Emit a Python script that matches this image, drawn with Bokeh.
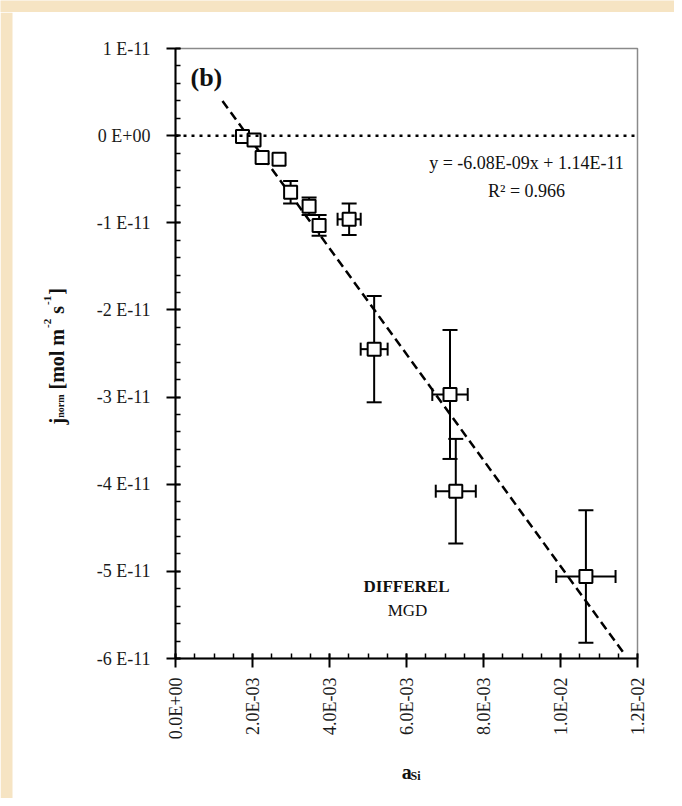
import math
from bokeh.plotting import figure
from bokeh.layouts import row, column
from bokeh.models import (ColumnDataSource, Whisker, TeeHead, Label, Range1d,
                          FixedTicker, CustomJSTickFormatter, Span)
from bokeh.embed import file_html
from bokeh.resources import INLINE

# ---------------- data ----------------
# a_Si (activity of Si)
a_si = [0.00174, 0.00204, 0.00225, 0.00269, 0.00299, 0.00347, 0.00373,
        0.00451, 0.00516, 0.00713, 0.00728, 0.01066]
# j_norm in units of 1E-11 mol m^-2 s^-1
j_norm = [-0.01, -0.05, -0.25, -0.27, -0.65, -0.81, -1.03,
          -0.96, -2.45, -2.97, -4.08, -5.06]
j_err = [0.0, 0.0, 0.0, 0.0, 0.13, 0.10, 0.12, 0.18, 0.61, 0.74, 0.60, 0.76]
a_err = [0.0, 0.0, 0.0, 0.0, 0.00012, 0.00012, 0.00012, 0.00030, 0.00035,
         0.00046, 0.00052, 0.00077]

fit_slope = -6.08e-09
fit_intercept = 1.14e-11
fit_r2 = 0.966
fit_x_span = [0.00122, 0.01165]
Y_UNIT = 1e-11

x_ticks = [0.0, 0.002, 0.004, 0.006, 0.008, 0.010, 0.012]
x_tick_labels = ["0.0E+00", "2.0E-03", "4.0E-03", "6.0E-03", "8.0E-03",
                 "1.0E-02", "1.2E-02"]
x_minor = [i * 0.0005 for i in range(25)]
y_ticks = [1, 0, -1, -2, -3, -4, -5, -6]
y_tick_labels = ["1 E-11", "0 E+00", "-1 E-11", "-2 E-11", "-3 E-11",
                 "-4 E-11", "-5 E-11", "-6 E-11"]
y_minor = [1 - 0.2 * i for i in range(36)]

# ---------------- layout (canvas pixels) ----------------
X_START, X_END = 0.0, 0.012
Y_START, Y_END = -6.0, 1.0
W, H = 674, 798
TOP_STRIP = 12          # beige strip above the white panel
LEFT_W = 90             # strip holding the y-axis title
XLAB_H = 40             # strip holding the x-axis title
FRAME_L, FRAME_R, FRAME_T, FRAME_B = 175, 637, 48, 658
MAIN_W = W - LEFT_W
MAIN_H = H - TOP_STRIP - XLAB_H
FONT = "Liberation Serif"
BEIGE = "#f6e4c3"


def dx(px):
    return X_START + (px - FRAME_L) / (FRAME_R - FRAME_L) * (X_END - X_START)


def dy(py):
    return Y_END - (py - FRAME_T) / (FRAME_B - FRAME_T) * (Y_END - Y_START)


def blank(width, height, bg="white"):
    f = figure(width=width, height=height, output_backend="svg",
               toolbar_location=None, x_range=Range1d(0, width),
               y_range=Range1d(0, height), min_border=0,
               x_axis_location=None, y_axis_location=None)
    f.grid.visible = False
    f.outline_line_color = None
    f.background_fill_color = bg
    f.border_fill_color = bg
    return f


main = figure(width=MAIN_W, height=MAIN_H, output_backend="svg",
              toolbar_location=None,
              x_range=Range1d(X_START, X_END), y_range=Range1d(Y_START, Y_END),
              min_border_left=FRAME_L - LEFT_W, min_border_right=W - FRAME_R,
              min_border_top=FRAME_T - TOP_STRIP,
              min_border_bottom=TOP_STRIP + MAIN_H - FRAME_B)
main.background_fill_color = "white"
main.border_fill_color = "white"
main.outline_line_color = "#8a8a8a"
main.outline_line_width = 1.5
main.xgrid.visible = False
main.ygrid.visible = False

fmt_js = """
const i = tv.findIndex(t => Math.abs(t - tick) < 1e-9);
return i >= 0 ? tl[i] : '';
"""
xa = main.xaxis[0]
xa.ticker = FixedTicker(ticks=x_ticks, minor_ticks=x_minor)
xa.formatter = CustomJSTickFormatter(args=dict(tv=x_ticks, tl=x_tick_labels), code=fmt_js)
xa.major_label_orientation = math.pi / 2
ya = main.yaxis[0]
ya.ticker = FixedTicker(ticks=y_ticks, minor_ticks=y_minor)
ya.formatter = CustomJSTickFormatter(args=dict(tv=y_ticks, tl=y_tick_labels), code=fmt_js)
for ax in (xa, ya):
    ax.axis_line_width = 2
    ax.axis_line_color = "black"
    ax.major_tick_line_width = 2
    ax.major_tick_line_color = "black"
    ax.minor_tick_line_width = 1.5
    ax.minor_tick_line_color = "black"
    ax.major_tick_out = 9
    ax.major_tick_in = 5
    ax.minor_tick_in = 5
    ax.minor_tick_out = 0
    ax.major_label_text_font = FONT
    ax.major_label_text_font_size = "18px"
    ax.major_label_text_color = "#1a1a1a"
xa.major_label_standoff = 10
ya.major_label_standoff = 16

# zero line (dotted)
main.add_layout(Span(location=0, dimension="width", line_color="black",
                     line_width=2.5, line_dash="3 5"))

# regression line
fit_y = [(fit_slope * x + fit_intercept) / Y_UNIT for x in fit_x_span]
main.line(fit_x_span, fit_y, line_color="black", line_width=2.5, line_dash="9 5")

# error bars
idx_y = [i for i in range(len(a_si)) if j_err[i] > 0]
src_y = ColumnDataSource(dict(
    x=[a_si[i] for i in idx_y],
    lo=[j_norm[i] - j_err[i] for i in idx_y],
    hi=[j_norm[i] + j_err[i] for i in idx_y]))
main.add_layout(Whisker(source=src_y, base="x", lower="lo", upper="hi",
                        dimension="height", line_color="black", line_width=2,
                        upper_head=TeeHead(size=15, line_width=2, line_color="black"),
                        lower_head=TeeHead(size=15, line_width=2, line_color="black")))
idx_x = [i for i in range(len(a_si)) if a_err[i] > 0]
src_x = ColumnDataSource(dict(
    y=[j_norm[i] for i in idx_x],
    lo=[a_si[i] - a_err[i] for i in idx_x],
    hi=[a_si[i] + a_err[i] for i in idx_x]))
main.add_layout(Whisker(source=src_x, base="y", lower="lo", upper="hi",
                        dimension="width", line_color="black", line_width=2,
                        upper_head=TeeHead(size=13, line_width=2, line_color="black"),
                        lower_head=TeeHead(size=13, line_width=2, line_color="black")))

# markers
main.scatter(a_si, j_norm, marker="square", size=13, fill_color="white",
             line_color="black", line_width=2)


# ---------------- texts ----------------
def lab(fig, text, x, y, size, bold=False, align="left", angle=0.0, color="#111111"):
    fig.add_layout(Label(x=x, y=y, text=text, text_font=FONT,
                         text_font_size=f"{size}px",
                         text_font_style="bold" if bold else "normal",
                         text_align=align, text_baseline="alphabetic",
                         angle=angle, text_color=color))


lab(main, f"y = {fit_slope:.2E}x + {fit_intercept:.2E}", dx(526), dy(162), 18, align="center")
lab(main, f"R² = {fit_r2:.3f}", dx(526), dy(190), 18, align="center")
lab(main, "(b)", dx(190), dy(77), 26, bold=True)
lab(main, "DIFFEREL", dx(406), dy(586), 17, bold=True, align="center")
lab(main, "MGD", dx(407), dy(610), 17, align="center")

# top beige strip
top = blank(W, TOP_STRIP, BEIGE)

# x-axis title strip: a_Si
xlab = blank(MAIN_W, XLAB_H)
lab(xlab, "a", 286, 27, 20, bold=True)
lab(xlab, "Si", 297, 23, 12, bold=True)

# y-axis title strip (rotated): j_norm [mol m^-2 s^-1]
ylab = blank(LEFT_W, H - TOP_STRIP)
ylab.quad(left=[0], right=[12], bottom=[0], top=[H - TOP_STRIP],
          fill_color=BEIGE, line_color=None)
BOLD_W = {' ': 250, '[': 333, ']': 333, '-': 333, 'j': 333, 'l': 278, 'm': 833,
          'n': 556, 'o': 500, 'r': 444, 's': 389}
BOLD_W.update({str(d): 500 for d in range(10)})
# (text, font px, baseline shift px, gap before px)
pieces = [("j", 20, 0, 0), ("norm", 10, 4, 0), ("[mol m", 20, 0, 5),
          ("-2", 11, -9, 1), ("s", 20, 0, 5), ("-1", 11, -9, 1), ("]", 20, 0, 1)]
base_x, cur_y = 56, 424
for txt, size, shift, gap in pieces:
    cur_y -= gap
    lab(ylab, txt, base_x + shift, H - cur_y, size, bold=True, angle=math.pi / 2)
    cur_y -= sum(BOLD_W.get(c, 500) for c in txt) * size / 1000.0

p = column(top, row(ylab, column(main, xlab)))

open("out.html", "w").write(file_html(p, INLINE))
